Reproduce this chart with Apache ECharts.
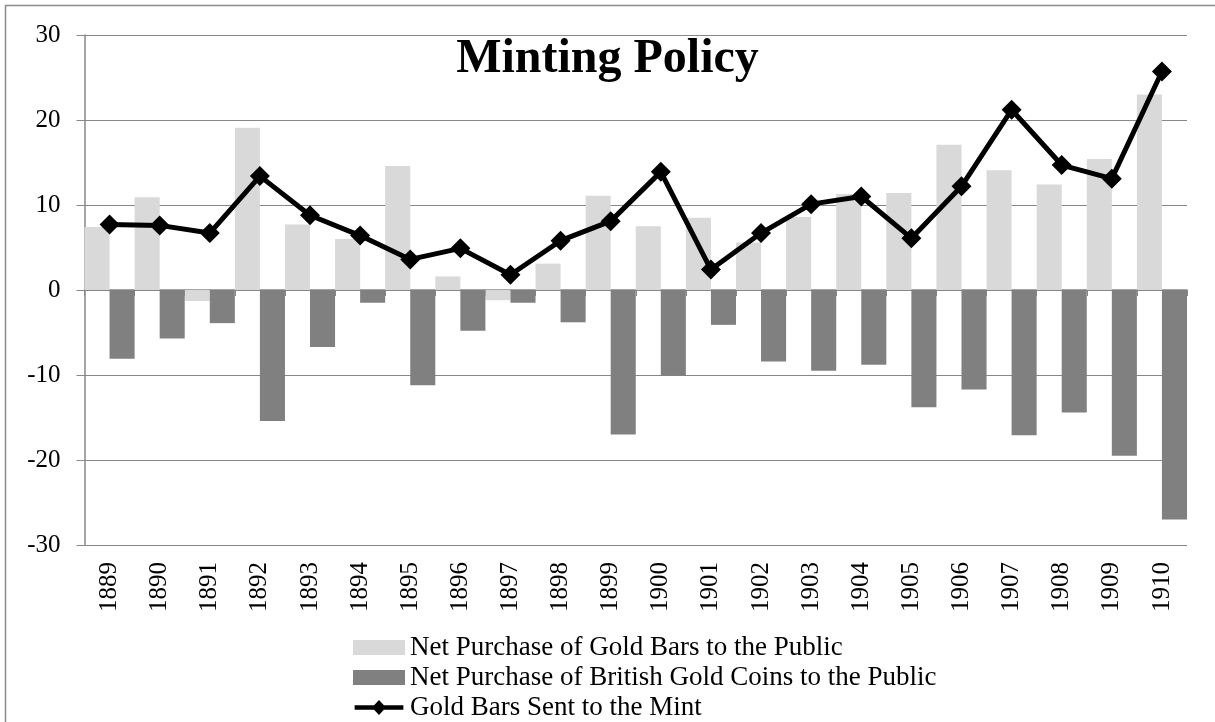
<!DOCTYPE html>
<html><head><meta charset="utf-8">
<script src="https://cdn.jsdelivr.net/npm/echarts@6/dist/echarts.min.js"></script>
<style>html,body{margin:0;padding:0;background:#fff}#c{width:1215px;height:722px}</style>
</head><body><div id="c"></div>
<script>
const years = ['1889','1890','1891','1892','1893','1894','1895','1896','1897','1898','1899','1900','1901','1902','1903','1904','1905','1906','1907','1908','1909','1910'];
const goldBarsPublic = [7.4, 10.9, -1.3, 19.1, 7.7, 6.0, 14.6, 1.6, -1.2, 3.1, 11.1, 7.5, 8.5, 5.6, 8.6, 11.3, 11.4, 17.1, 14.1, 12.4, 15.4, 23.0];
const britishCoinsPublic = [-8.1, -5.7, -3.9, -15.4, -6.7, -1.5, -11.2, -4.8, -1.5, -3.8, -17.0, -10.1, -4.1, -8.4, -9.5, -8.8, -13.8, -11.7, -17.1, -14.4, -19.5, -27.0];
const goldBarsMint = [7.7, 7.6, 6.7, 13.4, 8.8, 6.4, 3.6, 4.9, 1.8, 5.8, 8.1, 13.9, 2.4, 6.7, 10.1, 11.0, 6.1, 12.2, 21.2, 14.7, 13.1, 25.7];
const seriesNames = ['Net Purchase of Gold Bars to the Public', 'Net Purchase of British Gold Coins to the Public', 'Gold Bars Sent to the Mint'];
const yMin = -30, yMax = 30, yStep = 10;

const FONT = 'Liberation Serif';
const GRID = '#878787';
const chart = echarts.init(document.getElementById('c'));
chart.setOption({
  animation: false,
  backgroundColor: '#fff',
  title: {
    text: 'Minting Policy', left: 'center', top: 31,
    textStyle: { fontFamily: FONT, fontSize: 48, fontWeight: 'bold', color: '#000' }
  },
  graphic: [{
    type: 'rect', silent: true,
    shape: { x: 5.5, y: 5.5, width: 1240, height: 740 },
    style: { fill: 'none', stroke: '#8c8c8c', lineWidth: 1.5 }
  }],
  grid: { left: 84.5, right: 28, top: 35, bottom: 177, containLabel: false },
  legend: {
    orient: 'vertical', left: 353, top: 634, itemGap: 3, padding: 0, height: 90,
    itemWidth: 52, itemHeight: 15,
    textStyle: { fontFamily: FONT, fontSize: 27, color: '#000' },
    data: [
      { name: seriesNames[0], icon: 'rect' },
      { name: seriesNames[1], icon: 'rect' },
      { name: seriesNames[2], icon: 'path://M0,5.6H52V10.4H0Z M26,0L33.5,8L26,16L18.5,8Z', itemStyle: { color: '#000' } }
    ]
  },
  xAxis: [{
    type: 'category', data: years, position: 'bottom',
    axisLine: { onZero: true, lineStyle: { color: GRID, width: 1.5 } },
    axisTick: { show: true, length: 6, lineStyle: { color: GRID } },
    axisLabel: { show: false },
    splitLine: { show: false }
  }, {
    type: 'category', data: years, position: 'bottom',
    axisLine: { show: false, onZero: false },
    axisTick: { show: false },
    axisLabel: { rotate: 90, margin: 17, fontFamily: FONT, fontSize: 25, color: '#000' },
    splitLine: { show: false }
  }],
  yAxis: {
    type: 'value', min: yMin, max: yMax, interval: yStep,
    axisLine: { show: true, lineStyle: { color: GRID, width: 1.5 } },
    axisTick: { show: true, length: 8, lineStyle: { color: GRID } },
    axisLabel: { margin: 24, fontFamily: FONT, fontSize: 25, color: '#000' },
    splitLine: { lineStyle: { color: GRID, width: 1.2 } }
  },
  series: [{
    name: seriesNames[0], type: 'bar', xAxisIndex: 0, data: goldBarsPublic,
    barGap: '0%', barCategoryGap: '0%',
    itemStyle: { color: '#d9d9d9' }
  }, {
    name: seriesNames[1], type: 'bar', xAxisIndex: 0, data: britishCoinsPublic,
    barGap: '0%', barCategoryGap: '0%',
    itemStyle: { color: '#808080' }
  }, {
    name: seriesNames[2], type: 'line', xAxisIndex: 0, data: goldBarsMint,
    symbol: 'diamond', symbolSize: 20, z: 5,
    lineStyle: { color: '#000', width: 5 },
    itemStyle: { color: '#000' }
  }]
});
</script></body></html>
